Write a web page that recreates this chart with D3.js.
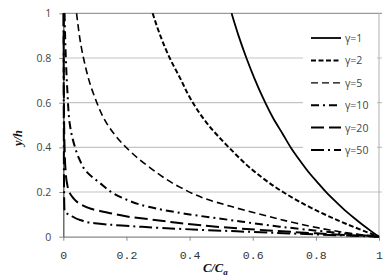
<!DOCTYPE html>
<html>
<head>
<meta charset="utf-8">
<script src="https://cdn.jsdelivr.net/npm/d3@7"></script>
<style>
  body { margin: 0; background: #fff; }
</style>
</head>
<body>
<svg width="386" height="276"></svg>
<script>
// values: each series is [C/Ca, y/h]
var gammaLabels = ["γ=1", "γ=2", "γ=5", "γ=10", "γ=20", "γ=50"];
var xTicks = [0, 0.2, 0.4, 0.6, 0.8, 1];
var yTicks = [0, 0.2, 0.4, 0.6, 0.8, 1];

var g1 = [[0.533, 1], [0.555, 0.9], [0.58, 0.8], [0.605, 0.71], [0.633, 0.62], [0.665, 0.53],
          [0.695, 0.46], [0.723, 0.394], [0.75, 0.34], [0.78, 0.284], [0.807, 0.24], [0.834, 0.197],
          [0.865, 0.154], [0.897, 0.112], [0.925, 0.079], [0.95, 0.051], [0.975, 0.025], [1, 0]];
var g2 = [[0.283, 1], [0.306, 0.905], [0.338, 0.797], [0.37, 0.71], [0.4, 0.625], [0.454, 0.51],
          [0.527, 0.396], [0.612, 0.284], [0.696, 0.2], [0.791, 0.125], [0.897, 0.057], [1, 0]];
var g5 = [[0.042, 1], [0.063, 0.806], [0.095, 0.642], [0.148, 0.485], [0.185, 0.42], [0.269, 0.315],
          [0.369, 0.222], [0.45, 0.17], [0.527, 0.137], [0.633, 0.097], [0.739, 0.06], [0.844, 0.03],
          [0.92, 0.013], [1, 0]];
var g10 = [[0.004, 1], [0.008, 0.8], [0.013, 0.65], [0.021, 0.5], [0.033, 0.42], [0.05, 0.35],
           [0.074, 0.29], [0.111, 0.246], [0.185, 0.175], [0.269, 0.134], [0.385, 0.103], [0.527, 0.075],
           [0.686, 0.045], [0.85, 0.02], [1, 0]];
var g20 = [[0.001, 1], [0.002, 0.6], [0.004, 0.4], [0.007, 0.3], [0.011, 0.245], [0.021, 0.194],
           [0.032, 0.172], [0.047, 0.152], [0.09, 0.124], [0.15, 0.105], [0.213, 0.088], [0.29, 0.075],
           [0.385, 0.058], [0.5, 0.043], [0.65, 0.028], [0.8, 0.015], [1, 0]];
var g50 = [[0.001, 1], [0.002, 0.3], [0.003, 0.15], [0.004, 0.112], [0.021, 0.097], [0.053, 0.075],
           [0.1, 0.06], [0.185, 0.05], [0.25, 0.044], [0.385, 0.034], [0.55, 0.024], [0.75, 0.013], [1, 0]];

var series = [g1, g2, g5, g10, g20, g50];

// line styles
var dashes = ["none", "5,2.5", "7,4", "8,4,2,4", "13,5", "13,4,2,4"];
var widths = [1.8, 2, 1.6, 2, 2, 2];

var svg = d3.select("svg");

var x = d3.scaleLinear().domain([0, 1]).range([63.3, 379]);
var y = d3.scaleLinear().domain([0, 1]).range([236.7, 13.3]);

// gridlines
svg.append("g")
   .selectAll("line")
   .data(yTicks.slice(1))
   .enter()
   .append("line")
   .attr("x1", x(0))
   .attr("x2", x(1) + 3)
   .attr("y1", function (d) { return y(d); })
   .attr("y2", function (d) { return y(d); })
   .attr("stroke", function (d) { return d == 1 ? "#9a9a9a" : "#c4c4c4"; })
   .attr("stroke-width", 1.2);

// right border
svg.append("line")
   .attr("x1", x(1)).attr("x2", x(1))
   .attr("y1", y(1)).attr("y2", y(0))
   .attr("stroke", "#b0b0b0")
   .attr("stroke-width", 1);

// legend box (covers gridlines)
svg.append("rect")
   .attr("x", 303).attr("y", 27)
   .attr("width", 74).attr("height", 134)
   .attr("fill", "#fff");

// axes
var xAxis = svg.append("g")
   .attr("transform", "translate(0," + y(0) + ")")
   .call(d3.axisBottom(x).tickValues(xTicks).tickSize(4).tickSizeOuter(0)
          .tickFormat(function (d) { return d == 0 || d == 1 ? d3.format("d")(d) : d3.format(".1f")(d); }));
xAxis.select(".domain").attr("stroke", "#888").attr("stroke-width", 1.2);
xAxis.selectAll(".tick line").attr("stroke", "#888");
xAxis.selectAll(".tick text")
   .attr("dy", "1.35em")
   .attr("fill", "#333")
   .attr("font-family", "Liberation Mono, monospace")
   .attr("font-size", "11.5px");

var yAxis = svg.append("g")
   .attr("transform", "translate(" + x(0) + ",0)")
   .call(d3.axisLeft(y).tickValues(yTicks).tickSize(4).tickSizeOuter(0)
          .tickFormat(function (d) { return d == 0 || d == 1 ? d3.format("d")(d) : d3.format(".1f")(d); }));
yAxis.select(".domain").attr("stroke", "#555").attr("stroke-width", 1.3);
yAxis.selectAll(".tick line").attr("stroke", "#888");
yAxis.selectAll(".tick text")
   .attr("x", -12)
   .attr("fill", "#444")
   .attr("font-family", "Open Sans, sans-serif")
   .attr("font-size", "10.5px");

// curves
var line = d3.line()
   .x(function (d) { return x(d[0]); })
   .y(function (d) { return y(d[1]); })
   .curve(d3.curveMonotoneY);

svg.append("g")
   .selectAll("path")
   .data(series)
   .enter()
   .append("path")
   .attr("d", line)
   .attr("fill", "none")
   .attr("stroke", "#000")
   .attr("stroke-width", function (d, i) { return widths[i]; })
   .attr("stroke-dasharray", function (d, i) { return dashes[i]; });

// legend
var leg = svg.append("g")
   .selectAll("g")
   .data(gammaLabels)
   .enter()
   .append("g")
   .attr("transform", function (d, i) { return "translate(0," + (38 + i * 22.4) + ")"; });

leg.append("line")
   .attr("x1", 311).attr("x2", 341)
   .attr("y1", 0).attr("y2", 0)
   .attr("stroke", "#000")
   .attr("stroke-width", function (d, i) { return i == 2 ? 1.2 : widths[i]; })
   .attr("stroke-dasharray", function (d, i) { return dashes[i]; });

leg.append("text")
   .attr("x", 345)
   .attr("y", 4)
   .attr("fill", "#444")
   .attr("font-family", "Open Sans, sans-serif")
   .attr("font-size", "10.5px")
   .text(function (d) { return d; });

// axis titles
var xt = svg.append("text")
   .attr("x", 203)
   .attr("y", 272)
   .attr("font-family", "Liberation Serif, serif")
   .attr("font-style", "italic")
   .attr("font-weight", "bold")
   .attr("font-size", "12.5px")
   .attr("fill", "#111");
xt.append("tspan").text("C/C");
xt.append("tspan").attr("dy", 3).attr("font-size", "9px").text("a");

svg.append("text")
   .attr("transform", "translate(22,138) rotate(-90)")
   .attr("text-anchor", "middle")
   .attr("font-family", "Liberation Serif, serif")
   .attr("font-style", "italic")
   .attr("font-weight", "bold")
   .attr("font-size", "12.5px")
   .attr("fill", "#111")
   .text("y/h");
</script>
</body>
</html>
